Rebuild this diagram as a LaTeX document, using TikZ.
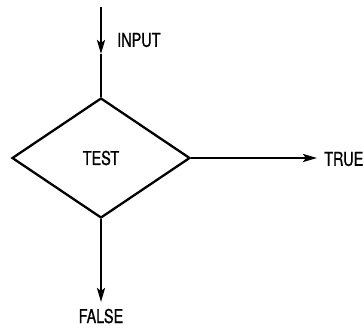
\documentclass[tikz,border=0pt]{standalone}
\usepackage{fontspec}
\setmainfont{TeX Gyre Heros}[FakeStretch=0.76,FakeBold=0.8]
\usetikzlibrary{shapes.geometric,arrows.meta}
\begin{document}
\begin{tikzpicture}[x=1pt,y=1pt,
  flow/.style={line width=2.3pt,black},
  arrowed/.style={flow,-{Stealth[length=14pt,width=8pt,inset=3pt]}},
  decision/.style={diamond,draw,line width=2.3pt,minimum width=178pt,minimum height=120pt,inner sep=0pt},
  lbl/.style={font=\fontsize{19}{21}\selectfont,inner sep=0pt}]
  \useasboundingbox (0,0) rectangle (364,-327);
  % decision box
  \node[decision,lbl] (test) at (101,-158) {TEST};
  % incoming flow, arrowhead halfway down
  \coordinate (src) at (101,-7);
  \coordinate (mid) at (101,-54);
  \draw[arrowed] (src) -- (mid);
  \draw[flow] (mid) -- (test.north);
  \node[lbl,anchor=west] (input) at (117,-40) {INPUT};
  % outcomes
  \coordinate (tend) at (317,-158);
  \draw[arrowed] (test.east) -- (tend);
  \node[lbl,anchor=west] (true) at (324,-159) {TRUE};
  \coordinate (fend) at (101,-302);
  \draw[arrowed] (test.south) -- (fend);
  \node[lbl,anchor=base] (false) at (101,-323) {FALSE};
\end{tikzpicture}
\end{document}
